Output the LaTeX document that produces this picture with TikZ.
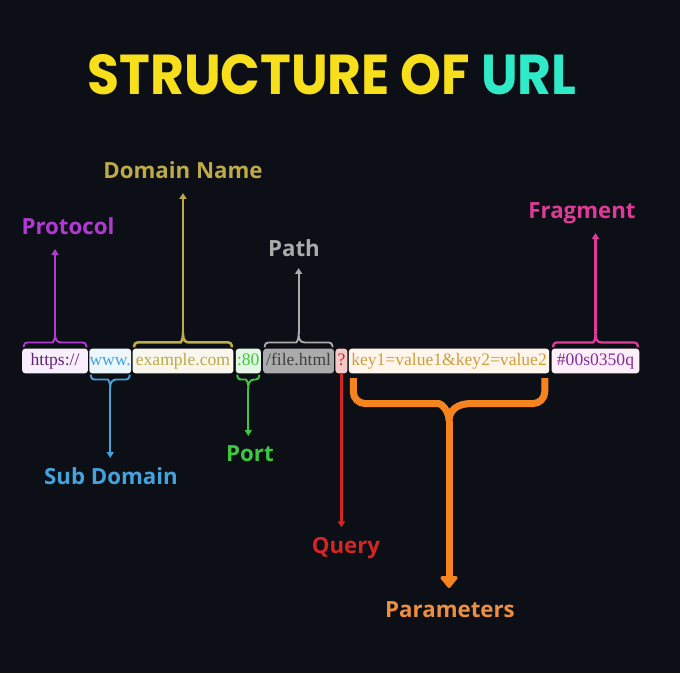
\documentclass[tikz,border=0pt]{standalone}
\usepackage{fontspec}
\setmainfont{Liberation Serif}
\newfontfamily\labelfont{Open Sans}
\newfontfamily\titlefont{Poppins}
\usetikzlibrary{arrows.meta,positioning,calc}
\definecolor{bgC}{HTML}{0D0F16}
\definecolor{titleY}{HTML}{F8DF1C}
\definecolor{titleT}{HTML}{2EEAC8}
\definecolor{protoC}{HTML}{B23AD4}
\definecolor{subC}{HTML}{45A3DC}
\definecolor{domainC}{HTML}{BDAA48}
\definecolor{portC}{HTML}{3FC83F}
\definecolor{pathC}{HTML}{ABABAB}
\definecolor{queryC}{HTML}{D42525}
\definecolor{paramsC}{HTML}{F5841E}
\definecolor{paramsT}{HTML}{EE8E40}
\definecolor{fragC}{HTML}{E03A98}

% one brace over (sign 1) or under (sign -1) a part of the address
\newcommand{\partbrace}[4]{%
  \draw[brc,#4] ([xshift=1.5pt,yshift={(#3)*1pt}]#1.#2 west) |- ($(#1.#2)+(-6,{(#3)*6})$)
    [sharp corners] .. controls +(4,0) and +(0,{-(#3)*5}) .. ($(#1.#2)+(0,{(#3)*14})$) coordinate (#1-tip)
    .. controls +(0,{-(#3)*5}) and +(-4,0) .. ($(#1.#2)+(6,{(#3)*6})$)
    [rounded corners=3pt] -| ([xshift=-1.5pt,yshift={(#3)*1pt}]#1.#2 east);
}

\begin{document}
\begin{tikzpicture}[
  x=0.03cm, y=0.03cm,
  seg/.style={
    rounded corners=2.5pt,
    minimum height=21pt,
    inner xsep=0.5pt, inner ysep=0pt,
    text height=11pt, text depth=3.5pt,
    font=\fontsize{15}{18}\selectfont
  },
  lbl/.style={anchor=base, inner sep=0pt, font=\labelfont\bfseries\fontsize{19}{22}\selectfont},
  brc/.style={line width=1.6pt, rounded corners=3pt},
  arr/.style={line width=1.6pt, -{Triangle[width=6pt,length=5pt]}}
  ]
  \fill[bgC] (0,0) rectangle (680,673);
  \useasboundingbox (0,0) rectangle (680,673);

  \node[anchor=base, xscale=0.925, transform shape, font=\titlefont\bfseries\fontsize{48}{56}\selectfont] (title) at (332,578)
    {\textcolor{titleY}{STRUCTURE OF} \textcolor{titleT}{URL}};

  % the address
  \node[seg, anchor=west, fill=protoC!8, text=protoC!55!black, minimum width=56pt] (proto) at (22,312) {https://};
  \node[seg, right=0.85pt of proto, fill=subC!10, text=subC, inner xsep=0pt, minimum width=35.7pt] (sub) {www.};
  \node[seg, right=0.85pt of sub, fill=domainC!10, text=domainC, minimum width=86pt] (domain) {example.com};
  \node[seg, right=1.7pt of domain, fill=portC!14, text=portC, minimum width=21.3pt] (port) {:80};
  \node[seg, right=1.7pt of port, fill=pathC, text=black!75, minimum width=60.4pt] (path) {/file.html};
  \node[seg, right=0.85pt of path, fill=queryC!25, text=queryC, minimum width=10.2pt] (query) {?};
  \node[seg, right=0.85pt of query, fill=paramsC!8, text=domainC!70!paramsC, minimum width=171pt] (params) {key1=value1\&key2=value2};
  \node[seg, right=1.7pt of params, fill=fragC!8, text=protoC!75!black, minimum width=74.8pt] (frag) {\#00s0350q};

  % labels
  \node[lbl, text=protoC] (protoL) at (68,438) {Protocol};
  \node[lbl, text=domainC] (domainL) at (183,494) {Domain Name};
  \node[lbl, text=pathC] (pathL) at (294,416) {Path};
  \node[lbl, text=fragC] (fragL) at (582,454) {Fragment};
  \node[lbl, text=subC] (subL) at (111,188) {Sub Domain};
  \node[lbl, text=portC] (portL) at (250,211) {Port};
  \node[lbl, text=queryC] (queryL) at (346,120) {Query};
  \node[lbl, text=paramsT] (paramsL) at (450,56) {Parameters};

  % braces above
  \partbrace{proto}{north}{1}{protoC}
  \partbrace{domain}{north}{1}{domainC, line width=2.2pt}
  \partbrace{path}{north}{1}{pathC}
  \partbrace{frag}{north}{1}{fragC, line width=2pt}
  \draw[arr, protoC] (proto-tip) -- (proto-tip |- protoL.base) [shorten >=12pt];
  \draw[arr, domainC, line width=2.2pt] (domain-tip) -- (domain-tip |- domainL.base) [shorten >=12pt];
  \draw[arr, pathC] (path-tip) -- (path-tip |- pathL.base) [shorten >=9.5pt];
  \draw[arr, fragC, line width=2pt] (frag-tip) -- (frag-tip |- fragL.base) [shorten >=12pt];

  % braces below
  \partbrace{sub}{south}{-1}{subC}
  \partbrace{port}{south}{-1}{portC}
  \draw[arr, subC] (sub-tip) -- (sub-tip |- subL.north) [shorten >=8.5pt];
  \draw[arr, portC] (port-tip) -- (port-tip |- portL.north) [shorten >=8.5pt];
  \draw[arr, queryC, line width=2pt] (query.south) -- (query.south |- queryL.north) [shorten >=8pt];

  \draw[paramsC, line width=6pt, rounded corners=10pt]
    ([xshift=4pt,yshift=-4pt]params.south west) |- ($(params.south)+(-22,-30)$)
    [sharp corners] .. controls +(14,0) and +(0,10) .. ($(params.south)+(0,-47)$) coordinate (params-tip)
    .. controls +(0,10) and +(-14,0) .. ($(params.south)+(22,-30)$)
    [rounded corners=10pt] -| ([xshift=-4pt,yshift=-4pt]params.south east);
  \draw[paramsC, line width=6pt, -{Triangle[width=17pt,length=11pt,round]}]
    (params-tip) -- (params-tip |- paramsL.north) [shorten >=11pt];
\end{tikzpicture}
\end{document}
